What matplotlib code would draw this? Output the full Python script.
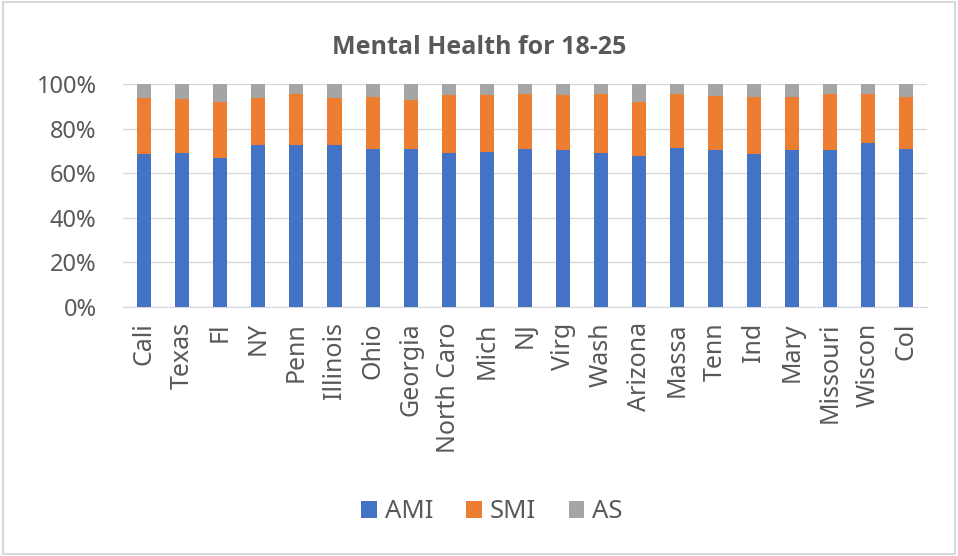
import matplotlib.pyplot as plt
import numpy as np
from matplotlib.ticker import PercentFormatter

plt.rcParams['font.family'] = ['Noto Sans', 'DejaVu Sans']

states = ['Cali', 'Texas', 'Fl', 'NY', 'Penn', 'Illinois', 'Ohio', 'Georgia',
          'North Caro', 'Mich', 'NJ', 'Virg', 'Wash', 'Arizona', 'Massa',
          'Tenn', 'Ind', 'Mary', 'Missouri', 'Wiscon', 'Col']
# shares in percent
ami = [68.6, 69.2, 66.7, 72.6, 72.6, 72.6, 70.7, 70.7, 69.2, 69.5, 70.8,
       70.4, 68.9, 67.7, 71.2, 70.4, 68.5, 70.4, 70.4, 73.7, 70.7]
smi = [25.0, 23.9, 25.4, 21.0, 22.8, 21.0, 23.6, 22.1, 25.9, 25.6, 24.6,
       24.7, 26.5, 24.4, 24.2, 24.2, 25.8, 23.9, 25.0, 21.7, 23.6]
as_ = [6.4, 6.9, 7.9, 6.4, 4.6, 6.4, 5.7, 7.2, 4.9, 4.9, 4.6,
       4.9, 4.6, 7.9, 4.6, 5.4, 5.7, 5.7, 4.6, 4.6, 5.7]

blue, orange, grey = '#4472C4', '#ED7D31', '#A5A5A5'
txt = '#595959'

fig = plt.figure(figsize=(9.58, 5.56), dpi=100)
ax = fig.add_axes([123 / 958, 1 - 307 / 556, (927 - 123) / 958, (307 - 84) / 556])

x = np.arange(len(states))
a = np.array(ami)
s = np.array(smi)
w = 0.37
ax.bar(x, a, w, color=blue, label='AMI', zorder=3)
ax.bar(x, s, w, bottom=a, color=orange, label='SMI', zorder=3)
ax.bar(x, as_, w, bottom=a + s, color=grey, label='AS', zorder=3)

ax.set_ylim(0, 100)
ax.set_xlim(-0.55, len(states) - 0.45)
ax.set_yticks(np.arange(0, 101, 20))
ax.yaxis.set_major_formatter(PercentFormatter(decimals=0))
ax.set_xticks(x)
ax.set_xticklabels(states, rotation=90)
ax.tick_params(axis='both', length=0, colors=txt)
ax.tick_params(axis='x', pad=11, labelsize=18)
ax.tick_params(axis='y', pad=19, labelsize=17)
ax.grid(axis='y', color='#D9D9D9', linewidth=1, zorder=0)
for sp in ['top', 'right', 'left']:
    ax.spines[sp].set_visible(False)
ax.spines['bottom'].set_color('#D9D9D9')

fig.text(0.5, 1 - 48 / 556, 'Mental Health for 18-25', ha='center', va='center',
         fontsize=18, fontweight='bold', color=txt, family='Open Sans')

leg = fig.legend(loc='center', bbox_to_anchor=(492 / 958, 1 - 512 / 556), ncol=3,
                 frameon=False, fontsize=18.5, handlelength=0.6, handleheight=0.6,
                 handletextpad=0.3, columnspacing=1.3)
for t in leg.get_texts():
    t.set_color(txt)

fig.patches.append(plt.Rectangle((0.003, 0.003), 0.994, 0.994, transform=fig.transFigure,
                                 fill=False, edgecolor='#D9D9D9', linewidth=1.5))

fig.savefig('out.png', dpi=100)
